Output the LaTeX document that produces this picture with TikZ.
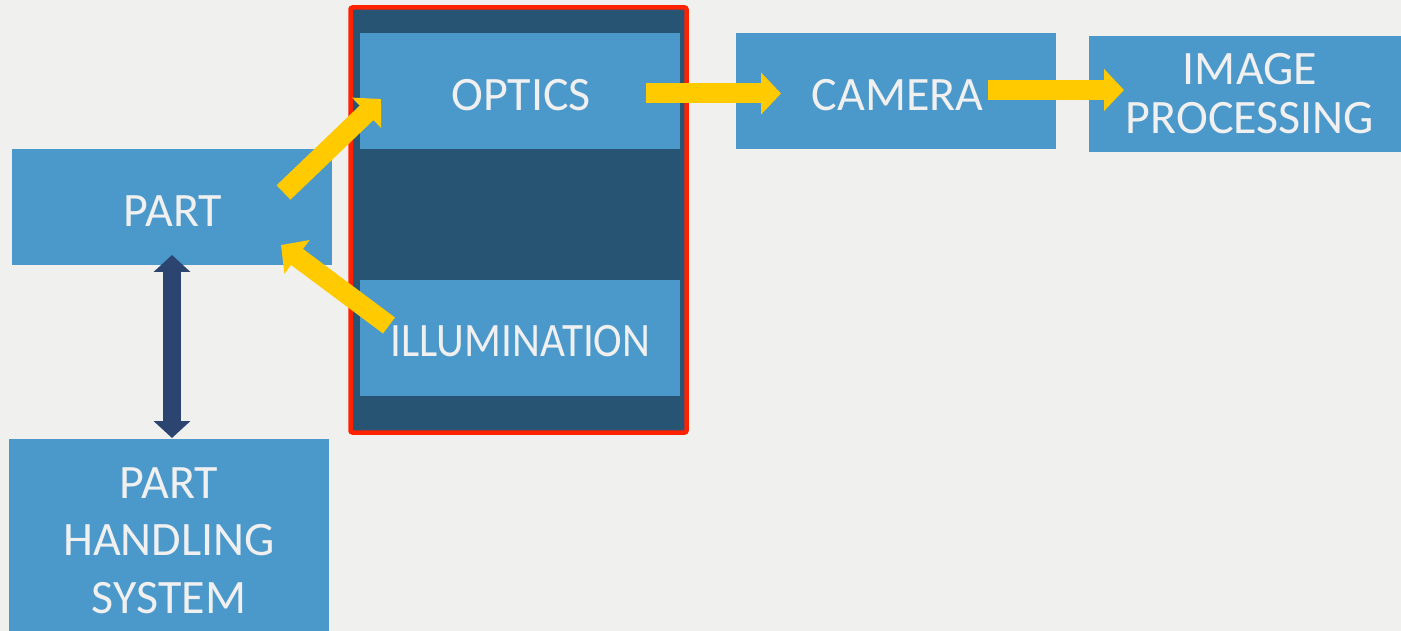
\documentclass[tikz,border=0pt]{standalone}
\usepackage{fontspec}
\setmainfont{Carlito}
\usetikzlibrary{arrows.meta,calc}
\definecolor{bg}{RGB}{240,240,238}
\definecolor{boxblue}{RGB}{75,152,203}
\definecolor{dark}{RGB}{40,84,116}
\definecolor{redb}{RGB}{255,34,0}
\definecolor{yel}{RGB}{255,202,0}
\definecolor{navy}{RGB}{43,69,112}
\definecolor{txt}{RGB}{240,240,240}
\tikzset{
  box/.style={draw=none, fill=boxblue, rectangle, inner sep=0pt, minimum width=320pt, minimum height=116pt},
  lbl/.style={text=txt, inner sep=0pt, font=\fontsize{48}{49}\selectfont, align=center},
  fat/.style={draw=yel, line width=20pt, -{Triangle[width=41pt,length=20pt]}},
  dbl/.style={draw=navy, line width=18.5pt, {Triangle[width=36pt,length=17pt]}-{Triangle[width=36pt,length=17pt]}}
}
\begin{document}
\begin{tikzpicture}[x=1pt,y=-1pt]
\useasboundingbox (0,0) rectangle (1401,631);
\fill[bg] (0,0) rectangle (1401,631);
% container
\draw[redb, line width=4.5pt, fill=dark, rounded corners=2pt] (350.5,7.5) rectangle (686.5,432.5);
% boxes
\node[box] (part) at (172,207) {};
\node[box, minimum height=192pt] (hand) at (169,535) {};
\node[box] (optics) at (520,91) {};
\node[box] (illum) at (520,338) {};
\node[box] (camera) at (896,91) {};
\node[box] (ip) at (1249,94) {};
% labels
\node[lbl] (partT) at (173,211) {PART};
\node[lbl, font=\fontsize{48}{57.6}\selectfont] (handT) at (169,540.5) {PART\\HANDLING\\SYSTEM};
\node[lbl] (opticsT) at (521,95) {OPTICS};
\node[lbl] (illumT) at (520.5,341.5) {\scalebox{0.9}[1]{ILLUMINATION}};
\node[lbl] (cameraT) at (897.5,95) {CAMERA};
\node[lbl] (ipT) at (1250,94) {IMAGE\\PROCESSING};
% arrows
\draw[fat] ($(part)+(111.5,-14.5)$) -- ($(optics)+(-139,8)$);
\draw[fat] ($(illum)+(-131,-12.5)$) -- ($(part)+(109,38)$);
\draw[fat] ($(optics)+(126,2.5)$) -- ($(camera)+(-115,2.5)$);
\draw[fat] ($(camera)+(92,-1)$) -- ($(ip)+(-125,-4)$);
\draw[dbl] ($(part)+(0,48)$) -- ($(hand)+(3,-97)$);
\end{tikzpicture}
\end{document}
